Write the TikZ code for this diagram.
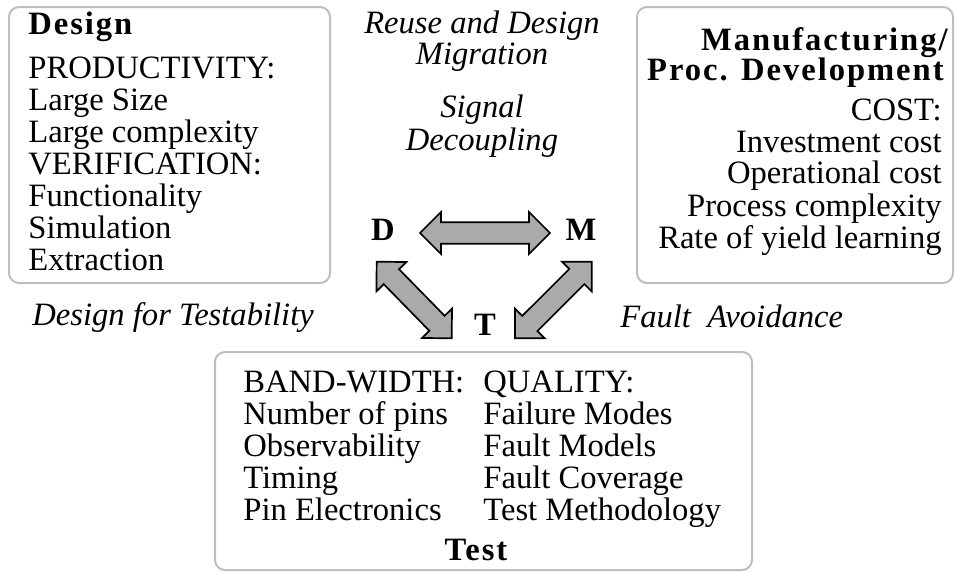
\documentclass[tikz,border=0pt]{standalone}
\usepackage{fontspec}
\setmainfont{Liberation Serif}
\newfontfamily\spacedbf[LetterSpace=6]{Liberation Serif}
\usetikzlibrary{calc}

\definecolor{panelgray}{RGB}{190,190,190}
\definecolor{arrowgray}{RGB}{170,170,170}

\def\headlen{10.5pt}
\def\headwd{10.5pt}
\def\shaftwd{5.35pt}

% fat double-headed arrow between two named points
\newcommand\fatarrow[2]{%
  \filldraw[fatarrow] (#1)
    -- ($(#1)!\headlen!(#2)!\headwd!90:(#2)$)
    -- ($(#1)!\headlen!(#2)!\shaftwd!90:(#2)$)
    -- ($(#2)!\headlen!(#1)!\shaftwd!-90:(#1)$)
    -- ($(#2)!\headlen!(#1)!\headwd!-90:(#1)$)
    -- (#2)
    -- ($(#2)!\headlen!(#1)!\headwd!90:(#1)$)
    -- ($(#2)!\headlen!(#1)!\shaftwd!90:(#1)$)
    -- ($(#1)!\headlen!(#2)!\shaftwd!-90:(#2)$)
    -- ($(#1)!\headlen!(#2)!\headwd!-90:(#2)$)
    -- cycle;}

\tikzset{
  txt/.style={font=\fontsize{16.3}{16}\selectfont, inner sep=0pt},
  ttl/.style={font=\spacedbf\fontsize{16.3}{16}\selectfont\bfseries, inner sep=0pt},
  letter/.style={font=\fontsize{16.3}{16}\selectfont\bfseries, inner sep=0pt},
  note/.style={font=\fontsize{16.3}{16}\selectfont\itshape, inner sep=0pt},
  panel/.style={draw=panelgray, line width=1pt, rounded corners=5pt},
  fatarrow/.style={fill=arrowgray, draw=black, line width=0.85pt}
}

\begin{document}
\begin{tikzpicture}[x=0.5pt, y=-0.5pt]
\useasboundingbox (0,0) rectangle (955,573);

% the three areas
\draw[panel] (9,7) rectangle (330,283);
\draw[panel] (637,7) rectangle (953,283);
\draw[panel] (215,352) rectangle (752,570);

% design
\node[ttl, anchor=base west] (design) at (28,34) {Design};
\node[txt, anchor=base west] (prod) at (28,78) {PRODUCTIVITY:};
\node[txt, anchor=base west] (size) at (28,110) {Large Size};
\node[txt, anchor=base west] (cplx) at (28,142) {Large complexity};
\node[txt, anchor=base west] (verif) at (28,174) {VERIFICATION:};
\node[txt, anchor=base west] (func) at (28,206) {Functionality};
\node[txt, anchor=base west] (sim) at (28,238) {Simulation};
\node[txt, anchor=base west] (extr) at (28,270) {Extraction};

% manufacturing
\node[ttl, anchor=base east] (manuf) at (948,50) {Manufacturing/};
\node[ttl, anchor=base east] (procdev) at (944,81) {Proc. Development};
\node[txt, anchor=base east] (cost) at (942,120) {COST:};
\node[txt, anchor=base east] (invest) at (942,152) {Investment cost};
\node[txt, anchor=base east] (oper) at (942,184) {Operational cost};
\node[txt, anchor=base east] (pcplx) at (942,216) {Process complexity};
\node[txt, anchor=base east] (yield) at (942,248) {Rate of yield learning};

% test
\node[txt, anchor=base west] (bw) at (243,392) {BAND-WIDTH:};
\node[txt, anchor=base west] (pins) at (243,424) {Number of pins};
\node[txt, anchor=base west] (obs) at (243,456) {Observability};
\node[txt, anchor=base west] (timing) at (243,488) {Timing};
\node[txt, anchor=base west] (pinel) at (243,520) {Pin Electronics};
\node[txt, anchor=base west] (qual) at (483,392) {QUALITY:};
\node[txt, anchor=base west] (fmodes) at (483,424) {Failure Modes};
\node[txt, anchor=base west] (fmodels) at (483,456) {Fault Models};
\node[txt, anchor=base west] (fcov) at (483,488) {Fault Coverage};
\node[txt, anchor=base west] (tmeth) at (483,520) {Test Methodology};
\node[ttl, anchor=base] (test) at (476,560) {Test};

% interfaces between the areas
\node[note, anchor=base] (reuse) at (482,33) {Reuse and Design};
\node[note, anchor=base] (migr) at (482,64) {Migration};
\node[note, anchor=base] (signal) at (482,118) {Signal};
\node[note, anchor=base] (decoup) at (482,150) {Decoupling};
\node[note, anchor=base west] (dft) at (32,325) {Design for Testability};
\node[note, anchor=base west] (favoid) at (620,327) {Fault~ Avoidance};

% corners of the triangle
\node[letter, anchor=base] (D) at (383,240) {D};
\node[letter, anchor=base] (M) at (581,240) {M};
\node[letter, anchor=base] (T) at (485,335) {T};

\coordinate (dm-d) at (420,233);
\coordinate (dm-m) at (550,233);
\coordinate (dt-d) at (376.7,261.7);
\coordinate (dt-t) at (451.7,338.3);
\coordinate (mt-m) at (591.7,261.7);
\coordinate (mt-t) at (515,338.3);

\fatarrow{dm-d}{dm-m}
\fatarrow{dt-d}{dt-t}
\fatarrow{mt-m}{mt-t}
\end{tikzpicture}
\end{document}
